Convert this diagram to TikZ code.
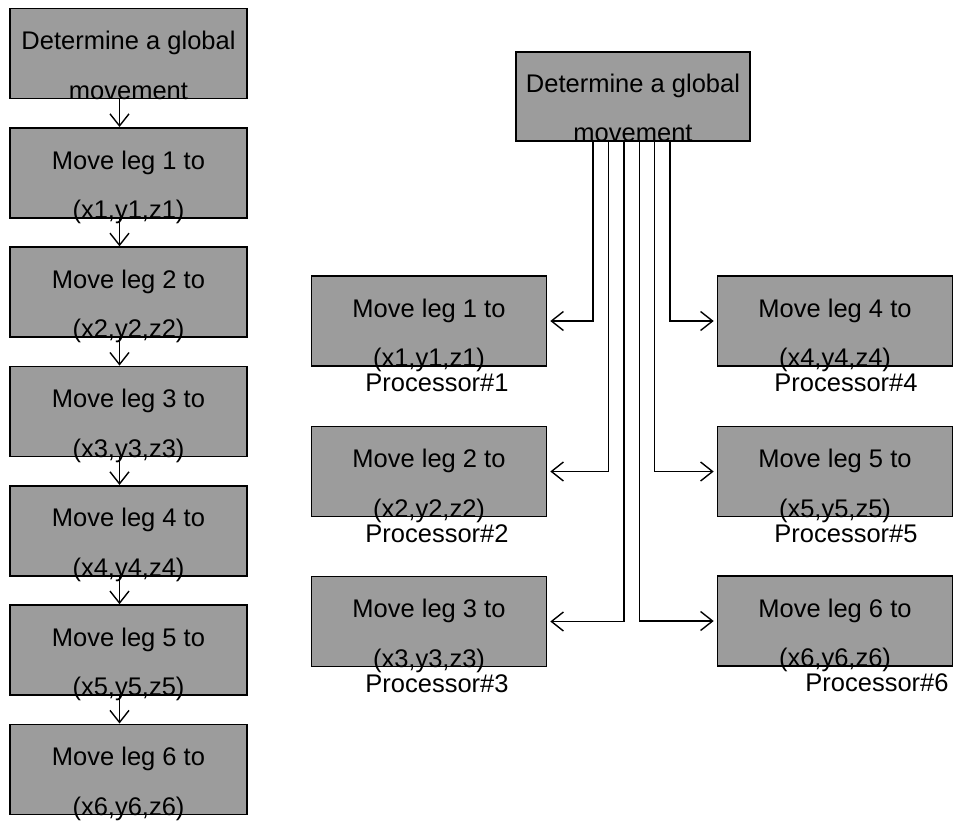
\documentclass[tikz,border=0pt]{standalone}
\usepackage{fontspec}
\setmainfont{Liberation Sans}
\usetikzlibrary{arrows.meta}
\definecolor{boxgray}{RGB}{156,156,156}
\tikzset{
	box/.style={draw, fill=boxgray, line width=1.6pt, inner sep=0pt, minimum height=90pt},
	colbox/.style={box, minimum width=237pt},
	procbox/.style={box, minimum width=235pt},
	txt/.style={font=\fontsize{25.5}{28}\selectfont, anchor=base, inner sep=0pt},
	link/.style={line width=1.4pt, -{Straight Barb[length=12pt,width=19pt]}, shorten >=3pt}
}
\begin{document}
\begin{tikzpicture}[x=1pt,y=-1pt]
	\useasboundingbox (0,0) rectangle (953,820);
	% la colonne de gauche
	\node[colbox] (c0) at (128.5,53.5) {};
	\node[colbox] (c1) at (128.5,172.8) {};
	\node[colbox] (c2) at (128.5,292.1) {};
	\node[colbox] (c3) at (128.5,411.4) {};
	\node[colbox] (c4) at (128.5,530.7) {};
	\node[colbox] (c5) at (128.5,650) {};
	\node[colbox] (c6) at (128.5,769.3) {};
	\node[txt] (c0a) at ([yshift=-42pt]c0.north) {Determine a global};
	\node[txt] (c0b) at (c0.south) {movement};
	\node[txt] (c1a) at ([yshift=-42pt]c1.north) {Move leg 1 to};
	\node[txt] (c1b) at (c1.south) {(x1,y1,z1)};
	\node[txt] (c2a) at ([yshift=-42pt]c2.north) {Move leg 2 to};
	\node[txt] (c2b) at (c2.south) {(x2,y2,z2)};
	\node[txt] (c3a) at ([yshift=-42pt]c3.north) {Move leg 3 to};
	\node[txt] (c3b) at (c3.south) {(x3,y3,z3)};
	\node[txt] (c4a) at ([yshift=-42pt]c4.north) {Move leg 4 to};
	\node[txt] (c4b) at (c4.south) {(x4,y4,z4)};
	\node[txt] (c5a) at ([yshift=-42pt]c5.north) {Move leg 5 to};
	\node[txt] (c5b) at (c5.south) {(x5,y5,z5)};
	\node[txt] (c6a) at ([yshift=-42pt]c6.north) {Move leg 6 to};
	\node[txt] (c6b) at (c6.south) {(x6,y6,z6)};
	\draw[link, shorten >=0pt] ([xshift=-9pt]c0.south) -- ([xshift=-9pt]c1.north);
	\draw[link, shorten >=0pt] ([xshift=-9pt]c1.south) -- ([xshift=-9pt]c2.north);
	\draw[link, shorten >=0pt] ([xshift=-9pt]c2.south) -- ([xshift=-9pt]c3.north);
	\draw[link, shorten >=0pt] ([xshift=-9pt]c3.south) -- ([xshift=-9pt]c4.north);
	\draw[link, shorten >=0pt] ([xshift=-9pt]c4.south) -- ([xshift=-9pt]c5.north);
	\draw[link, shorten >=0pt] ([xshift=-9pt]c5.south) -- ([xshift=-9pt]c6.north);
	% la partie parallele
	\node[box, minimum width=234pt, minimum height=89pt] (g) at (633,96.5) {};
	\node[txt] (ga) at ([yshift=-41pt]g.north) {Determine a global};
	\node[txt] (gb) at (g.south) {movement};
	\node[procbox] (p1) at (429,321) {};
	\node[procbox] (p2) at (429,471.5) {};
	\node[procbox] (p3) at (429,621.5) {};
	\node[procbox] (p4) at (835,321) {};
	\node[procbox] (p5) at (835,471.5) {};
	\node[procbox] (p6) at (835,621) {};
	\node[txt] (p1a) at ([yshift=-42pt]p1.north) {Move leg 1 to};
	\node[txt] (p1b) at (p1.south) {(x1,y1,z1)};
	\node[txt] (p2a) at ([yshift=-42pt]p2.north) {Move leg 2 to};
	\node[txt] (p2b) at (p2.south) {(x2,y2,z2)};
	\node[txt] (p3a) at ([yshift=-42pt]p3.north) {Move leg 3 to};
	\node[txt] (p3b) at (p3.south) {(x3,y3,z3)};
	\node[txt] (p4a) at ([yshift=-42pt]p4.north) {Move leg 4 to};
	\node[txt] (p4b) at (p4.south) {(x4,y4,z4)};
	\node[txt] (p5a) at ([yshift=-42pt]p5.north) {Move leg 5 to};
	\node[txt] (p5b) at (p5.south) {(x5,y5,z5)};
	\node[txt] (p6a) at ([yshift=-42pt]p6.north) {Move leg 6 to};
	\node[txt] (p6b) at (p6.south) {(x6,y6,z6)};
	\node[txt] (n1) at ([xshift=8pt,yshift=-25pt]p1.south) {Processor\#1};
	\node[txt] (n2) at ([xshift=8pt,yshift=-25pt]p2.south) {Processor\#2};
	\node[txt] (n3) at ([xshift=8pt,yshift=-25pt]p3.south) {Processor\#3};
	\node[txt] (n4) at ([xshift=11pt,yshift=-25pt]p4.south) {Processor\#4};
	\node[txt] (n5) at ([xshift=11pt,yshift=-25pt]p5.south) {Processor\#5};
	\node[txt] (n6) at ([xshift=42pt,yshift=-25pt]p6.south) {Processor\#6};
	\draw[link] ([xshift=-40pt]g.south) |- (p1.east);
	\draw[link] ([xshift=-24.6pt]g.south) |- (p2.east);
	\draw[link] ([xshift=-9.2pt]g.south) |- (p3.east);
	\draw[link] ([xshift=6.2pt]g.south) |- (p6.west);
	\draw[link] ([xshift=21.6pt]g.south) |- (p5.west);
	\draw[link] ([xshift=37pt]g.south) |- (p4.west);
\end{tikzpicture}
\end{document}
